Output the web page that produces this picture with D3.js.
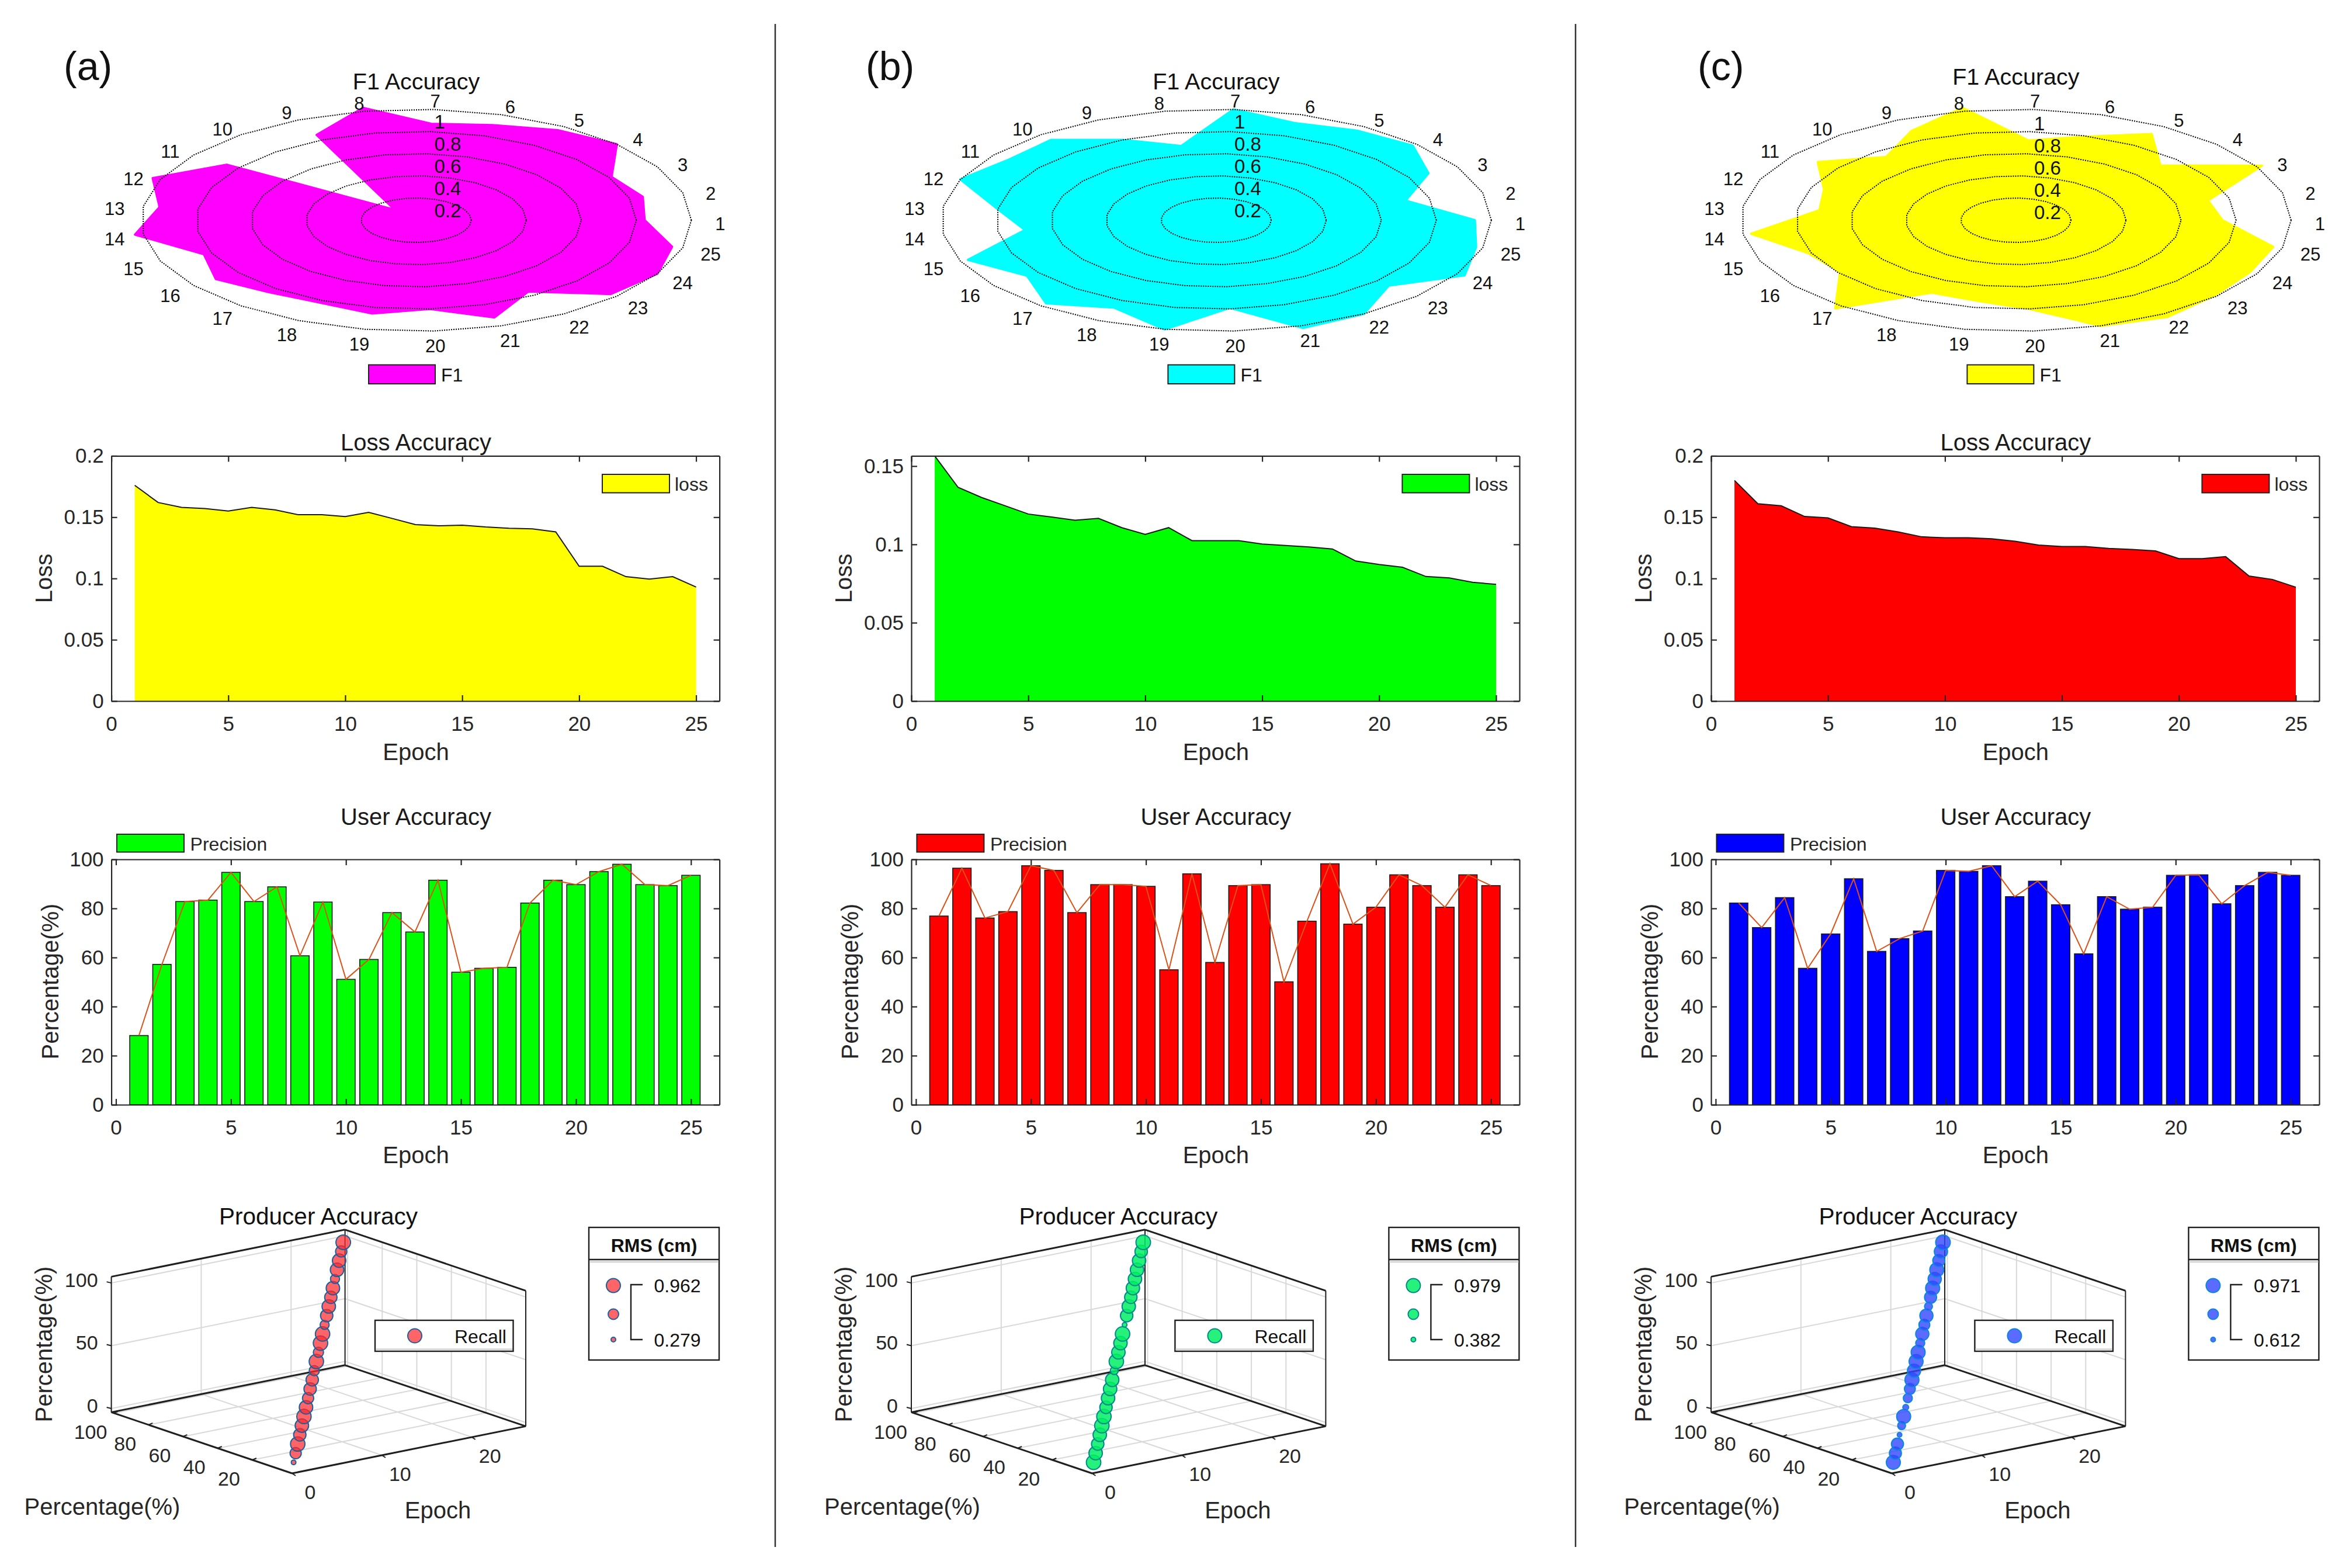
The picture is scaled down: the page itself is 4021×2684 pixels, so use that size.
<!DOCTYPE html>
<html>
<head>
<meta charset="utf-8">
<title>Training accuracy panels</title>
<script src="https://cdn.jsdelivr.net/npm/d3@7"></script>
<style>
  body { margin: 0; background: #ffffff; }
  svg { display: block; }
  text { font-family: "Liberation Sans", Arial, sans-serif; fill: #1a1a1a; }
</style>
</head>
<body>
<div id="vis"></div>
<script>
// data, one list per series
const EPOCHS = [1,2,3,4,5,6,7,8,9,10,11,12,13,14,15,16,17,18,19,20,21,22,23,24,25];
const RADAR_LABELS = [1,2,3,4,5,6,7,8,9,10,11,12,13,14,15,16,17,18,19,20,21,22,23,24,25];
const RADAR_RINGS = [0.2,0.4,0.6,0.8,1];

const F1_A = [.83,.85,.81,1.0,.96,.9,.87,1.03,.85,.12,.85,1.03,.94,1.03,.83,.9,.84,.82,.855,.8,.92,.76,.97,1.0,.96];
const F1_B = [.94,.71,.88,.98,.955,.92,1.0,.68,.8,.94,.93,1.0,.8,.7,.97,.85,.97,.87,1.0,.79,1.02,1.0,.86,1.03,.975];
const F1_C = [.75,.72,1.02,.72,.92,.79,.72,1.03,.89,.74,.89,.75,.72,.97,.81,.79,1.03,.72,.74,.8,1.0,1.03,.99,.97,.965];

const LOSS_A = [.176,.162,.158,.157,.155,.158,.156,.152,.152,.1505,.154,.149,.144,.143,.1435,.142,.141,.1405,.138,.110,.110,.1015,.0995,.1015,.093];
const LOSS_B = [.1565,.1364,.130,.1247,.1194,.1175,.1154,.1166,.1107,.1064,.1107,.1024,.1024,.1024,.1002,.0993,.0984,.0971,.0894,.0872,.0854,.0795,.0786,.0758,.0745];
const LOSS_C = [.180,.161,.1593,.1506,.1494,.1423,.1411,.138,.134,.1332,.1332,.1324,.1304,.1273,.1261,.1261,.1245,.1237,.1225,.1162,.1162,.1178,.102,.0992,.0929];

const PRECISION_A = [28.2,57.2,82.8,83.4,94.7,82.8,88.8,60.7,82.6,51.1,59.2,78.3,70.4,91.5,54,55.6,56,82.2,91.5,89.7,95,98,89.7,89.3,93.5];
const PRECISION_B = [76.9,96.4,76.1,78.7,97.4,95.5,78.3,89.7,89.7,89,55,94.1,58,89.3,89.7,50.1,74.8,98.2,73.6,80.5,93.7,89.3,80.5,93.7,89.3];
const PRECISION_C = [82.2,72.2,84.4,55.6,69.6,92.1,62.5,67.7,70.8,95.5,95.1,97.4,84.8,91.1,81.5,61.5,84.8,79.7,80.5,93.5,93.7,81.9,89.3,94.7,93.5];

// 3D scatter: percentage position of each point and its RMS bubble size
const RECALL_PCT = [2,6,10,14,18,22,26,30,34,38,42,46,50,54,58,62,66,70,74,78,82,86,90,94,98];
const RMS_A = [.279,.73,.95,.81,.885,.95,.885,.73,.81,.81,.66,.95,.66,.95,.95,.58,.81,.885,.81,.885,.58,.885,.885,.73,.962];
const RMS_B = [.97,.91,.85,.91,.97,.97,.85,.91,.91,.91,.58,.97,.91,.91,.97,.382,.85,.91,.85,.91,.91,.91,.91,.85,.979];
const RMS_C = [.95,.88,.88,.612,.73,.95,.655,.77,.84,.95,.92,.95,.95,.77,.92,.84,.92,.73,.88,.95,.92,.95,.88,.92,.971];

const LOSS_TICKS_02 = [0,0.05,0.1,0.15,0.2];
const LOSS_TICKS_015 = [0,0.05,0.1,0.15];
const PCT_TICKS = [0,20,40,60,80,100];
const EPOCH_TICKS = [0,5,10,15,20,25];
const AXIS3D_X_TICKS = [0,10,20];
const AXIS3D_Y_TICKS = [20,40,60,80,100];
const AXIS3D_Z_TICKS = [0,50,100];

// dimensions of the frame
const FRAME_WIDTH = 4021;
const FRAME_HEIGHT = 2684;
const INK = "#262626";
const TITLE_SIZE = 40;
const TICK_SIZE = 35;

const FRAME = d3.select("#vis")
                .append("svg")
                .attr("width", FRAME_WIDTH)
                .attr("height", FRAME_HEIGHT)
                .attr("viewBox", "0 0 " + FRAME_WIDTH + " " + FRAME_HEIGHT);

// the three columns, built from the lists above
const PANELS = [
  {label: "(a)", labelX: 109, dx: 0, radarColor: "#ff00ff", f1: F1_A, legendDx: 0, titleDy: 0, ringLabelDy: 0,
   lossColor: "#ffff00", loss: LOSS_A, lossMax: 0.2, lossTicks: LOSS_TICKS_02, lossTitle: true,
   barColor: "#00ff00", precision: PRECISION_A,
   rms: RMS_A, rmsText: ["0.962","0.279"], dotFill: "rgba(255,40,45,0.72)", dotStroke: "#1d5f9e"},
  {label: "(b)", labelX: 1482, dx: 1369.4, radarColor: "#00ffff", f1: F1_B, legendDx: -1, titleDy: 0, ringLabelDy: 0,
   lossColor: "#00ff00", loss: LOSS_B, lossMax: 0.1565, lossTicks: LOSS_TICKS_015, lossTitle: false,
   barColor: "#ff0000", precision: PRECISION_B,
   rms: RMS_B, rmsText: ["0.979","0.382"], dotFill: "rgba(0,240,100,0.85)", dotStroke: "#008a8a"},
  {label: "(c)", labelX: 2906, dx: 2738.4, radarColor: "#ffff00", f1: F1_C, legendDx: -2, titleDy: -8, ringLabelDy: 3,
   lossColor: "#ff0000", loss: LOSS_C, lossMax: 0.2, lossTicks: LOSS_TICKS_02, lossTitle: true,
   barColor: "#0000ff", precision: PRECISION_C,
   rms: RMS_C, rmsText: ["0.971","0.612"], dotFill: "rgba(50,70,255,0.8)", dotStroke: "#0a86e0"}
];

// small helper for plain text
function addText(g, x, y, str, size, anchor, color) {
  return g.append("text")
          .attr("x", x)
          .attr("y", y)
          .attr("dy", "0.35em")
          .attr("font-size", size)
          .attr("text-anchor", anchor || "middle")
          .style("fill", color || "#1a1a1a")
          .text(str);
}

// draws the box and inward ticks for a 2D chart
function drawBox(g, X, Y, xTicks, yTicks, top, left, w, h) {
  const bottomAxis = g.append("g")
    .attr("transform", "translate(" + left + "," + (top + h) + ")")
    .call(d3.axisBottom(X).tickValues(xTicks).tickFormat(d3.format("d"))
            .tickSizeInner(-10).tickSizeOuter(0).tickPadding(26));
  const leftAxis = g.append("g")
    .attr("transform", "translate(" + left + "," + top + ")")
    .call(d3.axisLeft(Y).tickValues(yTicks).tickFormat((d) => String(d))
            .tickSizeInner(-10).tickSizeOuter(0).tickPadding(13));
  g.append("g")
    .attr("transform", "translate(" + left + "," + top + ")")
    .call(d3.axisTop(X).tickValues(xTicks).tickFormat("").tickSizeInner(-10).tickSizeOuter(0));
  g.append("g")
    .attr("transform", "translate(" + (left + w) + "," + top + ")")
    .call(d3.axisRight(Y).tickValues(yTicks).tickFormat("").tickSizeInner(-10).tickSizeOuter(0));

  g.selectAll(".domain, .tick line").attr("stroke", INK).attr("stroke-width", 2.2);
  [bottomAxis, leftAxis].forEach((a) => {
    a.selectAll("text").attr("font-size", TICK_SIZE).style("fill", INK);
  });
}

// radar panel on top of each column
function buildRadar(g, p) {
  const CX = 712.5, CY = 377;
  const ANGLE = d3.scaleLinear().domain([1, 26]).range([0, 2 * Math.PI]);
  const RX = d3.scaleLinear().domain([0, 1]).range([0, 471]);
  const RY = d3.scaleLinear().domain([0, 1]).range([0, 190]);

  const radarLine = (r) => d3.line()
    .x((d) => CX + RX(r(d)) * Math.cos(ANGLE(d)))
    .y((d) => CY - RY(r(d)) * Math.sin(ANGLE(d)))
    .curve(d3.curveLinearClosed);

  g.append("path")
    .datum(EPOCHS)
    .attr("d", radarLine((d) => p.f1[d - 1]))
    .attr("fill", p.radarColor)
    .attr("stroke", p.radarColor)
    .attr("stroke-width", 4)
    .attr("stroke-linejoin", "round");

  g.selectAll(".ring")
    .data(RADAR_RINGS)
    .enter()
    .append("path")
      .attr("class", "ring")
      .attr("d", (v) => radarLine(() => v)(EPOCHS))
      .attr("fill", "none")
      .attr("stroke", "#000000")
      .attr("stroke-width", 2)
      .attr("stroke-dasharray", "2 2");

  RADAR_RINGS.forEach((v) => {
    addText(g, CX + 31, CY + 21 + p.ringLabelDy - RY(v), String(v), 33, "start", "#111111");
  });

  RADAR_LABELS.forEach((d) => {
    addText(g, CX + RX(1.105) * Math.cos(ANGLE(d)), CY + 6 - RY(1.105) * Math.sin(ANGLE(d)), String(d), 31, "middle", "#111111");
  });

  addText(g, CX, 139 + p.titleDy, "F1 Accuracy", 39.5, "middle", "#111111");

  g.append("rect")
    .attr("x", 631 + p.legendDx)
    .attr("y", 624.5)
    .attr("width", 114)
    .attr("height", 32.5)
    .attr("fill", p.radarColor)
    .attr("stroke", "#222222")
    .attr("stroke-width", 2);
  addText(g, 755 + p.legendDx, 642, "F1", 32, "start", "#111111");
}

// loss area chart
function buildLoss(g, p) {
  const LEFT = 190.6, TOP = 780.4, W = 1041, H = 419.6;
  const X = d3.scaleLinear().domain([0, 26]).range([0, W]);
  const Y = d3.scaleLinear().domain([0, p.lossMax]).range([H, 0]);
  const plot = g.append("g").attr("transform", "translate(" + LEFT + "," + TOP + ")");

  plot.append("path")
    .datum(EPOCHS)
    .attr("d", d3.area().x((d) => X(d)).y0(H).y1((d) => Y(p.loss[d - 1])))
    .attr("fill", p.lossColor);
  plot.append("path")
    .datum(EPOCHS)
    .attr("d", d3.line().x((d) => X(d)).y((d) => Y(p.loss[d - 1])))
    .attr("fill", "none")
    .attr("stroke", "#1a1a1a")
    .attr("stroke-width", 2);

  drawBox(g, X, Y, EPOCH_TICKS, p.lossTicks, TOP, LEFT, W, H);

  if (p.lossTitle) addText(g, 712, 757, "Loss Accuracy", TITLE_SIZE, "middle", "#1a1a1a");
  addText(g, 712, 1287, "Epoch", TITLE_SIZE, "middle", INK);
  addText(g, 0, 0, "Loss", TITLE_SIZE, "middle", INK)
    .attr("transform", "translate(75,990) rotate(-90)");

  g.append("rect")
    .attr("x", 1031).attr("y", 812)
    .attr("width", 115).attr("height", 31.5)
    .attr("fill", p.lossColor)
    .attr("stroke", "#222222")
    .attr("stroke-width", 2);
  addText(g, 1155, 828.5, "loss", 32, "start", INK);
}

// precision bar chart with the line over the bars
function buildBars(g, p) {
  const LEFT = 190.6, TOP = 1471, W = 1041, H = 420;
  const X = d3.scaleLinear().domain([-0.2, 26.24]).range([0, W]);
  const Y = d3.scaleLinear().domain([0, 100]).range([H, 0]);
  const plot = g.append("g").attr("transform", "translate(" + LEFT + "," + TOP + ")");

  plot.selectAll(".bar")
    .data(EPOCHS)
    .enter()
    .append("rect")
      .attr("class", "bar")
      .attr("x", (d) => X(d - 0.4))
      .attr("y", (d) => Y(p.precision[d - 1]))
      .attr("width", X(0.8) - X(0))
      .attr("height", (d) => H - Y(p.precision[d - 1]))
      .attr("fill", p.barColor)
      .attr("stroke", "#1a1a1a")
      .attr("stroke-width", 1.6);

  plot.append("path")
    .datum(EPOCHS)
    .attr("d", d3.line().x((d) => X(d)).y((d) => Y(p.precision[d - 1])))
    .attr("fill", "none")
    .attr("stroke", "#d95319")
    .attr("stroke-width", 2);

  drawBox(g, X, Y, EPOCH_TICKS, PCT_TICKS, TOP, LEFT, W, H);

  addText(g, 712, 1398, "User Accuracy", TITLE_SIZE, "middle", "#1a1a1a");
  addText(g, 712, 1977, "Epoch", TITLE_SIZE, "middle", INK);
  addText(g, 0, 0, "Percentage(%)", TITLE_SIZE, "middle", INK)
    .attr("transform", "translate(85.5,1680) rotate(-90)");

  g.append("rect")
    .attr("x", 200).attr("y", 1428)
    .attr("width", 115).attr("height", 30.5)
    .attr("fill", p.barColor)
    .attr("stroke", "#222222")
    .attr("stroke-width", 2);
  addText(g, 325.6, 1444.5, "Precision", 32, "start", INK);
}

// 3D looking scatter, projected from scales for each axis
function buildScatter3D(g, p) {
  const FRONT = [500, 2522];
  const XX = d3.scaleLinear().domain([0, 26]).range([0, 400]);
  const XY = d3.scaleLinear().domain([0, 26]).range([0, -80.6]);
  const YX = d3.scaleLinear().domain([-3, 101.5]).range([0, -309.4]);
  const YY = d3.scaleLinear().domain([-3, 101.5]).range([0, -104.6]);
  const ZY = d3.scaleLinear().domain([-3, 105]).range([0, -232]);
  const X0 = 0, X1 = 26, Y0 = -3, Y1 = 101.5, Z0 = -3, Z1 = 105;

  const project = (x, y, z) => [FRONT[0] + XX(x) + YX(y), FRONT[1] + XY(x) + YY(y) + ZY(z)];
  const seg = (a, b, color, width) => g.append("line")
    .attr("x1", a[0]).attr("y1", a[1])
    .attr("x2", b[0]).attr("y2", b[1])
    .attr("stroke", color)
    .attr("stroke-width", width);

  // grid lines on the floor and the two walls
  const GRID = "#d9d9d9";
  AXIS3D_X_TICKS.forEach((t) => {
    seg(project(t, Y0, Z0), project(t, Y1, Z0), GRID, 2);
    seg(project(t, Y1, Z0), project(t, Y1, Z1), GRID, 2);
  });
  AXIS3D_Y_TICKS.forEach((t) => {
    seg(project(X0, t, Z0), project(X1, t, Z0), GRID, 2);
    seg(project(X1, t, Z0), project(X1, t, Z1), GRID, 2);
  });
  AXIS3D_Z_TICKS.forEach((t) => {
    seg(project(X0, Y1, t), project(X1, Y1, t), GRID, 2);
    seg(project(X1, Y1, t), project(X1, Y0, t), GRID, 2);
  });

  // box edges
  const BOX = "#1f1f1f";
  seg(project(X0, Y1, Z0), project(X1, Y1, Z0), BOX, 3);
  seg(project(X1, Y1, Z0), project(X1, Y0, Z0), BOX, 3);
  seg(project(X0, Y1, Z1), project(X1, Y1, Z1), BOX, 3);
  seg(project(X1, Y1, Z1), project(X1, Y0, Z1), BOX, 3);
  seg(project(X1, Y1, Z0), project(X1, Y1, Z1), BOX, 2);
  seg(project(X0, Y1, Z0), project(X0, Y1, Z1), BOX, 2);
  seg(project(X1, Y0, Z0), project(X1, Y0, Z1), BOX, 2);
  seg(project(X0, Y0, Z0), project(X0, Y1, Z0), BOX, 3);
  seg(project(X0, Y0, Z0), project(X1, Y0, Z0), BOX, 3);

  // axis ticks and their labels
  AXIS3D_X_TICKS.forEach((t) => {
    const a = project(t, Y0, Z0);
    seg(a, [a[0] + 6, a[1] + 4], BOX, 2);
  });
  AXIS3D_Y_TICKS.forEach((t) => {
    const a = project(X0, t, Z0);
    seg(a, [a[0] + 7, a[1] - 3], BOX, 2);
  });
  AXIS3D_Z_TICKS.forEach((t) => {
    const a = project(X0, Y1, t);
    seg(a, [a[0] - 8, a[1] - 2], BOX, 2);
    addText(g, a[0] - 23, a[1] - 5, String(t), 34, "end", INK);
  });
  AXIS3D_X_TICKS.forEach((t) => {
    const a = project(t, Y0, Z0);
    addText(g, a[0] + 31, a[1] + 32, String(t), 34, "middle", INK);
  });
  AXIS3D_Y_TICKS.forEach((t) => {
    const a = project(X0, t, Z0);
    addText(g, a[0] - 40, a[1] + 32, String(t), 34, "middle", INK);
  });

  // bubbles are sized by their RMS value
  const SIZE = d3.scaleLinear().domain(d3.extent(p.rms)).range([4, 12.5]);
  g.selectAll(".dot")
    .data(EPOCHS)
    .enter()
    .append("circle")
      .attr("class", "dot")
      .attr("cx", (d) => project(d, RECALL_PCT[d - 1], RECALL_PCT[d - 1])[0] + 2)
      .attr("cy", (d) => project(d, RECALL_PCT[d - 1], RECALL_PCT[d - 1])[1])
      .attr("r", (d) => SIZE(p.rms[d - 1]))
      .attr("fill", p.dotFill)
      .attr("stroke", p.dotStroke)
      .attr("stroke-width", 2);

  addText(g, 545, 2082, "Producer Accuracy", 40.5, "middle", "#111111");
  addText(g, 175, 2579, "Percentage(%)", TITLE_SIZE, "middle", INK);
  addText(g, 749.5, 2584.5, "Epoch", TITLE_SIZE, "middle", INK);
  addText(g, 0, 0, "Percentage(%)", TITLE_SIZE, "middle", INK)
    .attr("transform", "translate(75,2301) rotate(-90)");

  // recall legend
  g.append("rect")
    .attr("x", 642).attr("y", 2260)
    .attr("width", 236.5).attr("height", 53)
    .attr("fill", "#ffffff")
    .attr("stroke", BOX)
    .attr("stroke-width", 2.4);
  seg([643, 2309.5], [877, 2309.5], "#c8c8c8", 2);
  g.append("circle")
    .attr("cx", 710).attr("cy", 2286.6).attr("r", 12)
    .attr("fill", p.dotFill)
    .attr("stroke", p.dotStroke)
    .attr("stroke-width", 2);
  addText(g, 778, 2288, "Recall", 32, "start", "#111111");

  // RMS size legend
  g.append("rect")
    .attr("x", 1008).attr("y", 2101)
    .attr("width", 223).attr("height", 227)
    .attr("fill", "#ffffff")
    .attr("stroke", BOX)
    .attr("stroke-width", 2.4);
  seg([1008, 2156], [1231, 2156], BOX, 2.4);
  seg([1009, 2160], [1230, 2160], "#d0d0d0", 2.5);
  addText(g, 1119.5, 2132, "RMS (cm)", 32, "middle", "#111111").attr("font-weight", "bold");

  const legendY = [2200.5, 2249.5, 2293];
  const legendR = [12, 9, 4];
  legendY.forEach((y, i) => {
    g.append("circle")
      .attr("cx", 1050).attr("cy", y).attr("r", legendR[i])
      .attr("fill", p.dotFill)
      .attr("stroke", p.dotStroke)
      .attr("stroke-width", 2);
  });
  g.append("path")
    .attr("d", "M1100,2199H1080V2293H1100")
    .attr("fill", "none")
    .attr("stroke", BOX)
    .attr("stroke-width", 2.4);
  addText(g, 1119.5, 2200.5, p.rmsText[0], 32, "start", "#111111");
  addText(g, 1119.5, 2294, p.rmsText[1], 32, "start", "#111111");
}

// builds each column
PANELS.forEach((p) => {
  const g = FRAME.append("g").attr("transform", "translate(" + p.dx + ",0)");
  buildRadar(g, p);
  buildLoss(g, p);
  buildBars(g, p);
  buildScatter3D(g, p);
  addText(FRAME, p.labelX, 113, p.label, 68, "start", "#111111");
});

// vertical rules between the columns
[1327, 2697].forEach((x) => {
  FRAME.append("line")
    .attr("x1", x).attr("x2", x)
    .attr("y1", 41).attr("y2", 2648)
    .attr("stroke", "#333333")
    .attr("stroke-width", 2.5);
});
</script>
</body>
</html>
